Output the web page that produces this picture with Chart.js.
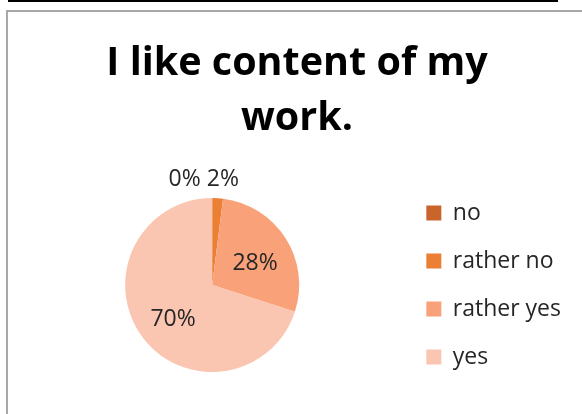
<!DOCTYPE html>
<html>
<head>
<meta charset="utf-8">
<script src="https://cdn.jsdelivr.net/npm/chart.js@4/dist/chart.umd.min.js"></script>
<style>
  html, body { margin: 0; padding: 0; background: #ffffff; }
  #wrap { position: relative; width: 582px; height: 414px; overflow: hidden; background: #ffffff; }
  #topRule { position: absolute; left: 8px; top: 0; width: 550px; height: 2px; background: #000000; }
  #frame { position: absolute; left: 6px; top: 10px; width: 590px; height: 420px;
           border-left: 2px solid #a8a8a8; border-top: 2px solid #a8a8a8; }
  canvas { position: absolute; left: 0; top: 0; }
</style>
</head>
<body>
<div id="wrap">
  <div id="topRule"></div>
  <div id="frame"></div>
  <canvas id="chart" width="582" height="414"></canvas>
</div>
<script>
// Survey answers and their share of respondents (percent)
const categories = ['no', 'rather no', 'rather yes', 'yes'];
const shares = [0, 2, 28, 70];
const sliceColors = ['#C9652B', '#EB7F33', '#F9A27A', '#FAC6B1'];
const titleLines = ['I like content of my', 'work.'];

const FONT = "'Open Sans', 'Noto Sans', sans-serif";

// Percentage labels: inside large slices, above the pie for thin ones
const sliceLabels = {
  id: 'sliceLabels',
  afterDatasetsDraw(chart) {
    const ctx = chart.ctx;
    const meta = chart.getDatasetMeta(0);
    const values = chart.data.datasets[0].data;
    const total = values.reduce((a, b) => a + b, 0);
    ctx.save();
    ctx.font = '23px ' + FONT;
    ctx.fillStyle = '#262626';
    ctx.textBaseline = 'middle';
    const outside = [];
    meta.data.forEach((arc, i) => {
      const p = arc.getProps(['x', 'y', 'startAngle', 'endAngle', 'outerRadius'], true);
      const mid = (p.startAngle + p.endAngle) / 2;
      const text = values[i] + '%';
      const share = values[i] / total;
      if (share >= 0.05) {
        const r = p.outerRadius * 0.57;
        ctx.textAlign = 'center';
        ctx.fillText(text, p.x + Math.cos(mid) * r + 1, p.y + Math.sin(mid) * r + 5);
      } else {
        const r = p.outerRadius + 19;
        const w = ctx.measureText(text).width;
        outside.push({ text, w, x: p.x + Math.cos(mid) * r + 4, y: p.y + Math.sin(mid) * r });
      }
    });
    // push crowded outside labels apart, keeping the last one on its anchor
    for (let k = outside.length - 2; k >= 0; k--) {
      const a = outside[k], b = outside[k + 1];
      const minGap = (a.w + b.w) / 2 + 6;
      if (b.x - a.x < minGap) a.x = b.x - minGap;
    }
    ctx.textAlign = 'center';
    outside.forEach(o => ctx.fillText(o.text, o.x, o.y));
    ctx.restore();
  }
};

// Keep the legend column vertically centred on the pie rather than the whole canvas
const legendBesidePie = {
  id: 'legendBesidePie',
  afterLayout(chart) {
    const lg = chart.legend;
    const area = chart.chartArea;
    if (!lg || !area) return;
    const shift = (area.top + area.bottom) / 2 - (lg.top + lg.bottom) / 2;
    lg.top += shift;
    lg.bottom += shift;
  }
};

new Chart(document.getElementById('chart'), {
  type: 'pie',
  data: {
    labels: categories,
    datasets: [{
      data: shares,
      backgroundColor: sliceColors,
      borderWidth: 0
    }]
  },
  options: {
    responsive: false,
    animation: false,
    layout: { padding: { left: 23, right: 11, top: 36, bottom: 42 } },
    plugins: {
      tooltip: { enabled: false },
      title: {
        display: true,
        text: titleLines,
        color: '#000000',
        font: { family: FONT, size: 39.5, weight: 'bold', lineHeight: 1.392 },
        padding: { top: 0, bottom: 52 }
      },
      legend: {
        position: 'right',
        labels: {
          color: '#262626',
          font: { family: FONT, size: 23 },
          boxWidth: 15,
          boxHeight: 15,
          padding: 25
        }
      }
    }
  },
  plugins: [sliceLabels, legendBesidePie]
});
</script>
</body>
</html>
